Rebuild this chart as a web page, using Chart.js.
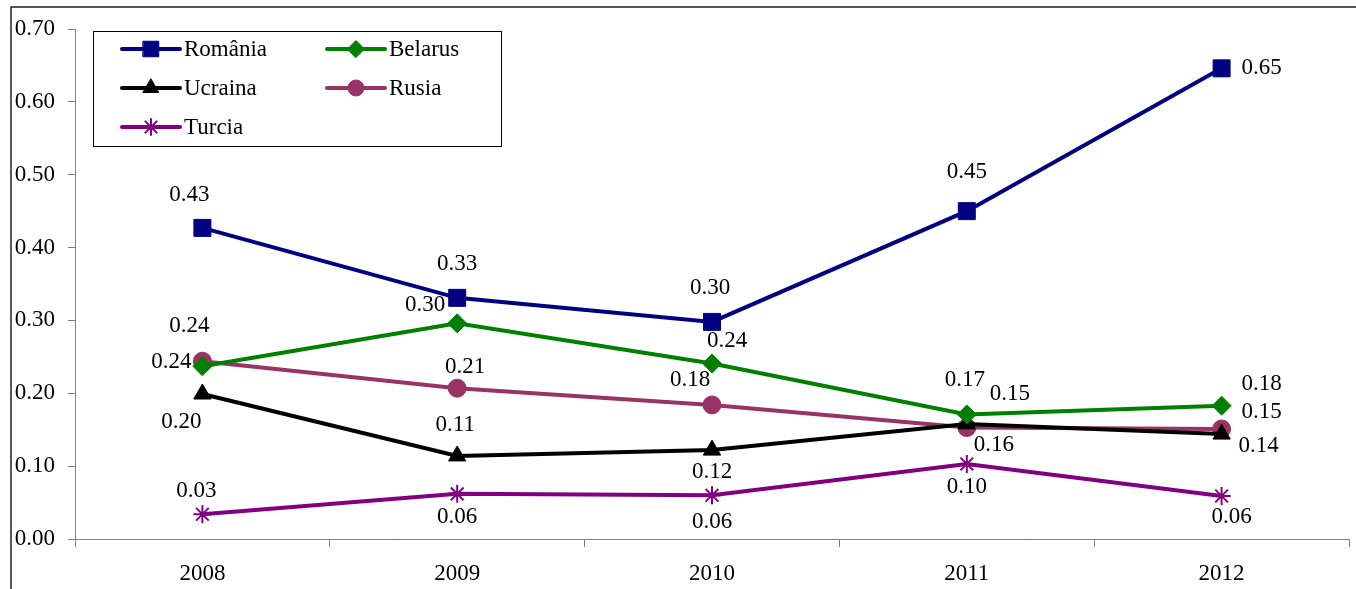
<!DOCTYPE html>
<html>
<head>
<meta charset="utf-8">
<script src="https://cdn.jsdelivr.net/npm/chart.js@4"></script>
<style>
  html, body { margin: 0; padding: 0; background: #fff; }
  #wrap { width: 1356px; height: 589px; position: relative; }
</style>
</head>
<body>
<div id="wrap"><canvas id="chart" width="1356" height="589"></canvas></div>
<script>
const years = ['2008', '2009', '2010', '2011', '2012'];
const yTicks = [0, 0.1, 0.2, 0.3, 0.4, 0.5, 0.6, 0.7];

const romania = [0.427, 0.331, 0.298, 0.450, 0.646];
const belarus = [0.237, 0.296, 0.241, 0.171, 0.183];
const ucraina = [0.199, 0.114, 0.122, 0.158, 0.144];
const rusia   = [0.244, 0.207, 0.184, 0.153, 0.151];
const turcia  = [0.034, 0.062, 0.060, 0.103, 0.059];

// where each value label sits relative to its point [dx, dy]
const labelOffsets = [
    [[-13, -33], [0, -34], [-2, -34], [0, -39], [40, 0]],
    [[-31, -4], [-32, -18], [15, -22], [-2, -34], [40, -22]],
    [[-21, 28], [-2, -31], [0, 22], [27, 21], [37, 12]],
    [[-13, -35], [8, -21], [-22, -25], [43, -34], [40, -17]],
    [[-6, -23], [0, 23], [0, 27], [0, 23], [10, 21]]
];

const FONT = '"Liberation Serif", "Times New Roman", serif';
const FSIZE = 23;

function series(label, data, color, style, radius) {
    return {
        label, data,
        borderColor: color,
        backgroundColor: color,
        borderWidth: 4,
        pointStyle: style,
        pointRadius: radius,
        pointHoverRadius: radius,
        pointBorderWidth: style === 'star' ? 2 : 1,
        pointBorderColor: color,
        pointBackgroundColor: color,
        tension: 0
    };
}

const datasets = [
    series('România', romania, '#000080', 'rect', 12),
    series('Belarus', belarus, '#008000', 'rectRot', 9.5),
    series('Ucraina', ucraina, '#000000', 'triangle', 10),
    series('Rusia', rusia, '#993366', 'circle', 9),
    series('Turcia', turcia, '#800080', 'star', 9)
];

const framePlugin = {
    id: 'frame',
    beforeDraw(chart) {
        const ctx = chart.ctx;
        ctx.save();
        ctx.strokeStyle = '#222';
        ctx.lineWidth = 1.5;
        ctx.beginPath();
        ctx.moveTo(11, 600);
        ctx.lineTo(11, 7);
        ctx.lineTo(1360, 7);
        ctx.stroke();
        ctx.restore();
    }
};

const valueLabels = {
    id: 'valueLabels',
    afterDatasetsDraw(chart) {
        const ctx = chart.ctx;
        ctx.save();
        ctx.font = FSIZE + 'px ' + FONT;
        ctx.fillStyle = '#000';
        ctx.textAlign = 'center';
        ctx.textBaseline = 'middle';
        chart.data.datasets.forEach((ds, i) => {
            chart.getDatasetMeta(i).data.forEach((pt, j) => {
                const off = labelOffsets[i][j];
                ctx.fillText(ds.data[j].toFixed(2), pt.x + off[0], pt.y + off[1]);
            });
        });
        ctx.restore();
    }
};

const boxLegend = {
    id: 'boxLegend',
    afterDraw(chart) {
        const ctx = chart.ctx;
        ctx.save();
        ctx.fillStyle = '#fff';
        ctx.fillRect(93, 31, 408, 115);
        ctx.strokeStyle = '#000';
        ctx.lineWidth = 1;
        ctx.strokeRect(93.5, 31.5, 408, 115);
        ctx.font = FSIZE + 'px ' + FONT;
        ctx.textBaseline = 'middle';
        ctx.textAlign = 'left';
        const cols = [122, 327];
        const rows = [49, 88, 127];
        chart.data.datasets.forEach((ds, i) => {
            const x = cols[i % 2];
            const y = rows[Math.floor(i / 2)];
            ctx.strokeStyle = ds.borderColor;
            ctx.lineWidth = 4;
            ctx.lineCap = 'round';
            ctx.beginPath();
            ctx.moveTo(x, y);
            ctx.lineTo(x + 58, y);
            ctx.stroke();
            ctx.fillStyle = ds.borderColor;
            ctx.strokeStyle = ds.borderColor;
            ctx.lineWidth = ds.pointBorderWidth;
            Chart.helpers.drawPoint(ctx, {
                pointStyle: ds.pointStyle,
                radius: ds.pointRadius - 1,
                rotation: 0,
                borderWidth: ds.pointBorderWidth
            }, x + 29, y);
            ctx.fillStyle = '#000';
            ctx.fillText(ds.label, x + 62, y + 1);
        });
        ctx.restore();
    }
};

new Chart(document.getElementById('chart'), {
    type: 'line',
    data: { labels: years, datasets },
    options: {
        responsive: false,
        animation: false,
        events: [],
        layout: { autoPadding: false, padding: { top: 29, right: 7, left: 0, bottom: 0 } },
        plugins: {
            legend: { display: false },
            tooltip: { enabled: false }
        },
        scales: {
            x: {
                offset: true,
                grid: {
                    offset: true,
                    drawOnChartArea: false,
                    drawTicks: true,
                    tickLength: 8,
                    color: '#808080',
                    lineWidth: 1
                },
                border: { display: true, color: '#808080', width: 1 },
                ticks: {
                    color: '#000',
                    font: { family: FONT, size: FSIZE },
                    padding: 13,
                    maxRotation: 0
                },
                afterFit(scale) {
                    scale.height = 50;
                    scale.paddingLeft = 0;
                    scale.paddingRight = 0;
                }
            },
            y: {
                min: 0,
                max: 0.7,
                afterBuildTicks(scale) {
                    scale.ticks = yTicks.map(v => ({ value: v }));
                },
                grid: {
                    drawOnChartArea: false,
                    drawTicks: true,
                    tickLength: 7,
                    color: '#808080'
                },
                border: { display: true, color: '#808080', width: 1 },
                ticks: {
                    color: '#000',
                    font: { family: FONT, size: FSIZE },
                    padding: 13,
                    callback: v => Number(v).toFixed(2)
                },
                afterFit(scale) { scale.width = 75; }
            }
        }
    },
    plugins: [framePlugin, valueLabels, boxLegend]
});
</script>
</body>
</html>
